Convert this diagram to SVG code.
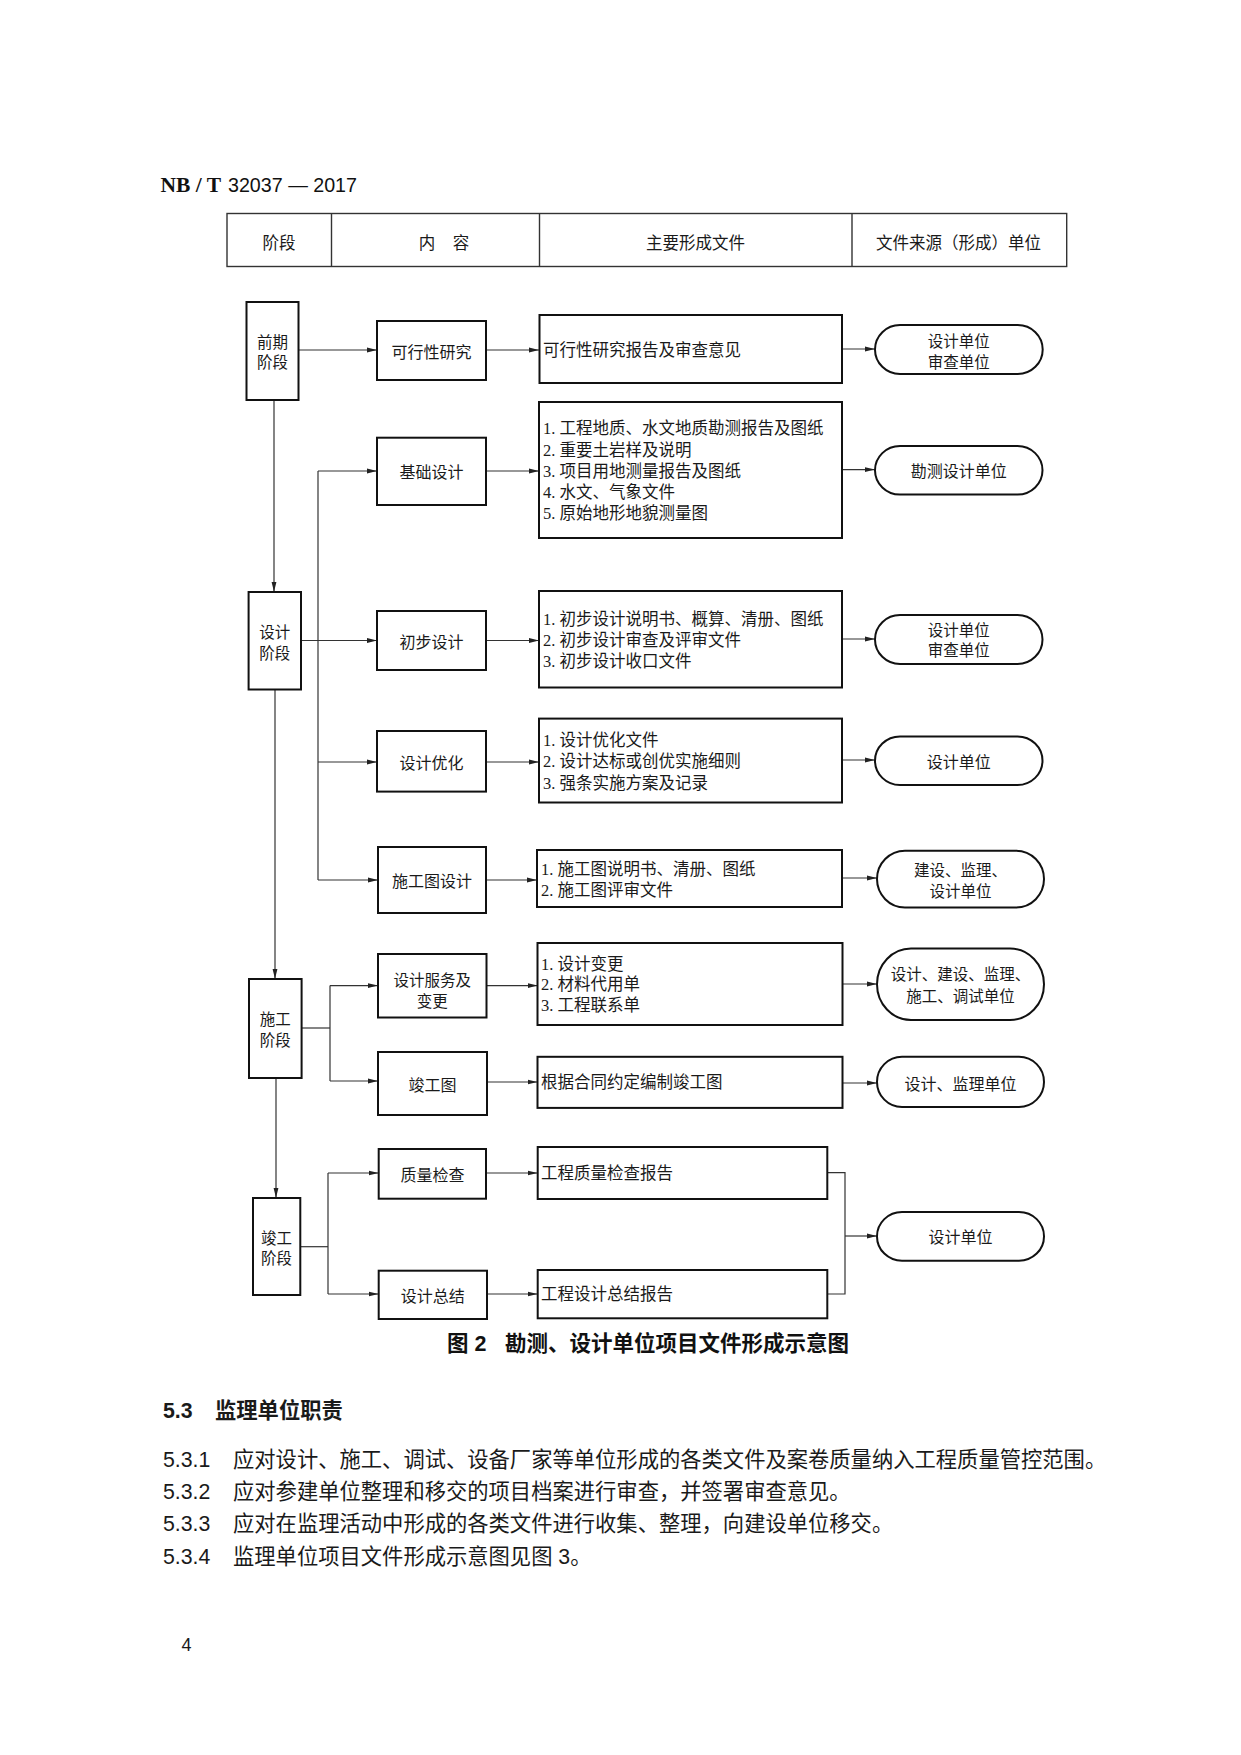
<svg xmlns="http://www.w3.org/2000/svg" width="1241" height="1755" viewBox="0 0 1241 1755">
<defs>
<style>
.box{fill:#fff;stroke:#111;stroke-width:2}
.pill{fill:#fff;stroke:#111;stroke-width:2}
.tbl{fill:none;stroke:#333;stroke-width:1.4}
.ln{fill:none;stroke:#333;stroke-width:1.2}
.cn{font-family:"Noto Sans CJK SC",sans-serif;font-size:16px;fill:#1a1a1a}
.two{font-size:15.5px}
.mid{text-anchor:middle}
.doc{font-family:"Liberation Serif","Noto Sans CJK SC",serif;font-size:16.5px;fill:#1a1a1a}
.body{font-family:"Liberation Sans","Noto Sans CJK SC",sans-serif;font-size:21.3px;fill:#1a1a1a}
.cap{font-family:"Liberation Sans","Noto Sans CJK SC",sans-serif;font-size:21.5px;font-weight:bold;fill:#111}
</style>
<marker id="ah" markerWidth="10" markerHeight="6" refX="10" refY="3" orient="auto" markerUnits="userSpaceOnUse">
<path d="M0,0.6 L10,3 L0,5.4 z" fill="#222"/>
</marker>
</defs>
<rect width="1241" height="1755" fill="#fff"/>

<g id="page-header">
<text x="160.5" y="192" font-family="Liberation Serif,serif" font-weight="bold" font-size="21.5" fill="#111">NB / T</text>
<text x="228" y="192" font-family="Liberation Sans,sans-serif" font-size="21" fill="#111" textLength="129" lengthAdjust="spacingAndGlyphs">32037 — 2017</text>
</g>

<g id="table-header">
<rect class="tbl" x="227" y="213.5" width="839.7" height="53"/>
<line class="tbl" x1="331.5" y1="213.5" x2="331.5" y2="266.5"/>
<line class="tbl" x1="539.5" y1="213.5" x2="539.5" y2="266.5"/>
<line class="tbl" x1="852" y1="213.5" x2="852" y2="266.5"/>
<g class="cn" dominant-baseline="central" style="font-size:16.5px">
<text class="mid" x="279" y="242">阶段</text>
<text class="mid" x="427" y="242">内</text>
<text class="mid" x="461" y="242">容</text>
<text class="mid" x="695.5" y="242">主要形成文件</text>
<text class="mid" x="958.5" y="242">文件来源（形成）单位</text>
</g>
</g>

<g id="connectors">
<path class="ln" d="M298.4,350 H377" marker-end="url(#ah)"/>
<path class="ln" d="M486,350 H539" marker-end="url(#ah)"/>
<path class="ln" d="M842,349 H875" marker-end="url(#ah)"/>
<path class="ln" d="M274,400 V592" marker-end="url(#ah)"/>
<path class="ln" d="M275,689.5 V979" marker-end="url(#ah)"/>
<path class="ln" d="M276,1078 V1198" marker-end="url(#ah)"/>
<path class="ln" d="M301,640.5 H377" marker-end="url(#ah)"/>
<path class="ln" d="M318,471 V880"/>
<path class="ln" d="M318,471 H377" marker-end="url(#ah)"/>
<path class="ln" d="M318,762 H377" marker-end="url(#ah)"/>
<path class="ln" d="M318,880 H378" marker-end="url(#ah)"/>
<path class="ln" d="M486,471 H539" marker-end="url(#ah)"/>
<path class="ln" d="M486,640.5 H539" marker-end="url(#ah)"/>
<path class="ln" d="M486,762 H539" marker-end="url(#ah)"/>
<path class="ln" d="M486,880 H537" marker-end="url(#ah)"/>
<path class="ln" d="M842,469.6 H875" marker-end="url(#ah)"/>
<path class="ln" d="M842,639 H875" marker-end="url(#ah)"/>
<path class="ln" d="M842,760 H875" marker-end="url(#ah)"/>
<path class="ln" d="M842,878 H877" marker-end="url(#ah)"/>
<path class="ln" d="M301.6,1028 H330"/>
<path class="ln" d="M330,985.6 V1081"/>
<path class="ln" d="M330,985.6 H378" marker-end="url(#ah)"/>
<path class="ln" d="M330,1081 H378" marker-end="url(#ah)"/>
<path class="ln" d="M486.5,985.6 H537.5" marker-end="url(#ah)"/>
<path class="ln" d="M487,1082 H537.5" marker-end="url(#ah)"/>
<path class="ln" d="M842.5,984 H877" marker-end="url(#ah)"/>
<path class="ln" d="M842.5,1083 H877" marker-end="url(#ah)"/>
<path class="ln" d="M300,1246.7 H328"/>
<path class="ln" d="M328,1173 V1294"/>
<path class="ln" d="M328,1173 H378.7" marker-end="url(#ah)"/>
<path class="ln" d="M328,1294 H378.7" marker-end="url(#ah)"/>
<path class="ln" d="M486,1173 H537.7" marker-end="url(#ah)"/>
<path class="ln" d="M487,1294 H537.7" marker-end="url(#ah)"/>
<path class="ln" d="M827.3,1172.7 H845 V1294 H827.3"/>
<path class="ln" d="M845,1236 H877" marker-end="url(#ah)"/>
</g>

<g id="stage-qianqi">
<rect class="box" x="246.5" y="302" width="52" height="98"/>
<text class="cn two mid" x="272.5" y="340.5" dominant-baseline="central">前期</text>
<text class="cn two mid" x="272.5" y="361" dominant-baseline="central">阶段</text>
</g>
<g id="stage-sheji">
<rect class="box" x="248.6" y="592" width="52.4" height="97.5"/>
<text class="cn two mid" x="274.8" y="631" dominant-baseline="central">设计</text>
<text class="cn two mid" x="274.8" y="651.5" dominant-baseline="central">阶段</text>
</g>
<g id="stage-shigong">
<rect class="box" x="249" y="979" width="52.6" height="99"/>
<text class="cn two mid" x="275.3" y="1018.3" dominant-baseline="central">施工</text>
<text class="cn two mid" x="275.3" y="1038.8" dominant-baseline="central">阶段</text>
</g>
<g id="stage-jungong">
<rect class="box" x="253" y="1198" width="47.3" height="97"/>
<text class="cn two mid" x="276.6" y="1236.7" dominant-baseline="central">竣工</text>
<text class="cn two mid" x="276.6" y="1257.2" dominant-baseline="central">阶段</text>
</g>

<g id="content-kexing">
<rect class="box" x="377" y="321" width="109" height="59"/>
<text class="cn mid" x="431.5" y="350.5" dominant-baseline="central">可行性研究</text>
</g>
<g id="content-jichu">
<rect class="box" x="377" y="437.7" width="109" height="67.3"/>
<text class="cn mid" x="431.5" y="471" dominant-baseline="central">基础设计</text>
</g>
<g id="content-chubu">
<rect class="box" x="377" y="611" width="109" height="59"/>
<text class="cn mid" x="431.5" y="640.5" dominant-baseline="central">初步设计</text>
</g>
<g id="content-youhua">
<rect class="box" x="377" y="731" width="109" height="60.6"/>
<text class="cn mid" x="431.5" y="762" dominant-baseline="central">设计优化</text>
</g>
<g id="content-shigongtu">
<rect class="box" x="378" y="847" width="108" height="66"/>
<text class="cn mid" x="432" y="880" dominant-baseline="central">施工图设计</text>
</g>
<g id="content-fuwu">
<rect class="box" x="378" y="954" width="108.5" height="63.5"/>
<text class="cn two mid" x="432.2" y="979.4" dominant-baseline="central">设计服务及</text>
<text class="cn two mid" x="432.2" y="999.9" dominant-baseline="central">变更</text>
</g>
<g id="content-jungongtu">
<rect class="box" x="378" y="1052" width="109" height="63"/>
<text class="cn mid" x="432.5" y="1083.5" dominant-baseline="central">竣工图</text>
</g>
<g id="content-zhiliang">
<rect class="box" x="378.7" y="1149" width="107.3" height="49.7"/>
<text class="cn mid" x="432.4" y="1173.5" dominant-baseline="central">质量检查</text>
</g>
<g id="content-zongjie">
<rect class="box" x="378.7" y="1270.7" width="108.3" height="48.3"/>
<text class="cn mid" x="432.8" y="1294.5" dominant-baseline="central">设计总结</text>
</g>

<g id="doc-kexing">
<rect class="box" x="539.5" y="315" width="302.5" height="68"/>
<text class="doc" x="543" y="350" dominant-baseline="central">可行性研究报告及审查意见</text>
</g>
<g id="doc-jichu">
<rect class="box" x="539" y="402" width="303" height="136"/>
<text class="doc" x="543" y="428.6" dominant-baseline="central">1. 工程地质、水文地质勘测报告及图纸</text>
<text class="doc" x="543" y="450" dominant-baseline="central">2. 重要土岩样及说明</text>
<text class="doc" x="543" y="471" dominant-baseline="central">3. 项目用地测量报告及图纸</text>
<text class="doc" x="543" y="492.3" dominant-baseline="central">4. 水文、气象文件</text>
<text class="doc" x="543" y="513.6" dominant-baseline="central">5. 原始地形地貌测量图</text>
</g>
<g id="doc-chubu">
<rect class="box" x="539" y="591" width="303" height="96.5"/>
<text class="doc" x="543" y="619.6" dominant-baseline="central">1. 初步设计说明书、概算、清册、图纸</text>
<text class="doc" x="543" y="640.5" dominant-baseline="central">2. 初步设计审查及评审文件</text>
<text class="doc" x="543" y="661.4" dominant-baseline="central">3. 初步设计收口文件</text>
</g>
<g id="doc-youhua">
<rect class="box" x="539" y="718.6" width="303" height="83.9"/>
<text class="doc" x="543" y="740.7" dominant-baseline="central">1. 设计优化文件</text>
<text class="doc" x="543" y="761.6" dominant-baseline="central">2. 设计达标或创优实施细则</text>
<text class="doc" x="543" y="783" dominant-baseline="central">3. 强条实施方案及记录</text>
</g>
<g id="doc-shigongtu">
<rect class="box" x="537" y="850" width="305" height="57"/>
<text class="doc" x="541" y="869" dominant-baseline="central">1. 施工图说明书、清册、图纸</text>
<text class="doc" x="541" y="890.7" dominant-baseline="central">2. 施工图评审文件</text>
</g>
<g id="doc-fuwu">
<rect class="box" x="537.5" y="943" width="305" height="82"/>
<text class="doc" x="541" y="964" dominant-baseline="central">1. 设计变更</text>
<text class="doc" x="541" y="984.8" dominant-baseline="central">2. 材料代用单</text>
<text class="doc" x="541" y="1005.7" dominant-baseline="central">3. 工程联系单</text>
</g>
<g id="doc-jungongtu">
<rect class="box" x="537.5" y="1056.8" width="305" height="51.1"/>
<text class="doc" x="541" y="1082.9" dominant-baseline="central">根据合同约定编制竣工图</text>
</g>
<g id="doc-zhiliang">
<rect class="box" x="537.7" y="1147" width="289.6" height="52"/>
<text class="doc" x="541" y="1173" dominant-baseline="central">工程质量检查报告</text>
</g>
<g id="doc-zongjie">
<rect class="box" x="537.7" y="1270" width="289.6" height="48.3"/>
<text class="doc" x="541" y="1294" dominant-baseline="central">工程设计总结报告</text>
</g>

<g id="unit-1">
<rect class="pill" x="875" y="325" width="167.7" height="49" rx="25" ry="24.5"/>
<text class="cn two mid" x="958.8" y="340.4" dominant-baseline="central">设计单位</text>
<text class="cn two mid" x="958.8" y="360.9" dominant-baseline="central">审查单位</text>
</g>
<g id="unit-2">
<rect class="pill" x="875" y="446" width="167.5" height="48.6" rx="25" ry="24.3"/>
<text class="cn mid" x="958.8" y="470.3" dominant-baseline="central">勘测设计单位</text>
</g>
<g id="unit-3">
<rect class="pill" x="875" y="615" width="167.5" height="49" rx="25" ry="24.5"/>
<text class="cn two mid" x="958.8" y="628.9" dominant-baseline="central">设计单位</text>
<text class="cn two mid" x="958.8" y="649.4" dominant-baseline="central">审查单位</text>
</g>
<g id="unit-4">
<rect class="pill" x="875" y="736.4" width="167.5" height="48.6" rx="25" ry="24.3"/>
<text class="cn mid" x="958.8" y="760.7" dominant-baseline="central">设计单位</text>
</g>
<g id="unit-5">
<rect class="pill" x="877" y="850.7" width="167" height="56.8" rx="28" ry="28.4"/>
<text class="cn two mid" x="960.5" y="869" dominant-baseline="central">建设、监理、</text>
<text class="cn two mid" x="960.5" y="890" dominant-baseline="central">设计单位</text>
</g>
<g id="unit-6">
<rect class="pill" x="877" y="948.6" width="167" height="71.4" rx="34" ry="35.7"/>
<text class="cn two mid" x="960.5" y="973.4" dominant-baseline="central">设计、建设、监理、</text>
<text class="cn two mid" x="960.5" y="994.5" dominant-baseline="central">施工、调试单位</text>
</g>
<g id="unit-7">
<rect class="pill" x="877" y="1056.8" width="167" height="50.2" rx="25" ry="25.1"/>
<text class="cn mid" x="960.5" y="1082.5" dominant-baseline="central">设计、监理单位</text>
</g>
<g id="unit-8">
<rect class="pill" x="877" y="1212" width="167" height="48.7" rx="25" ry="24.3"/>
<text class="cn mid" x="960.5" y="1236.3" dominant-baseline="central">设计单位</text>
</g>

<g id="caption">
<text class="cap" x="447" y="1344" dominant-baseline="central">图 2</text>
<text class="cap" x="505" y="1344" dominant-baseline="central">勘测、设计单位项目文件形成示意图</text>
</g>

<g id="body-text">
<text class="body" x="163" y="1411" dominant-baseline="central" font-weight="bold">5.3</text>
<text class="body" x="215" y="1411" dominant-baseline="central" font-weight="bold">监理单位职责</text>
<text class="body" x="163" y="1460" dominant-baseline="central">5.3.1</text>
<text class="body" x="233" y="1460" dominant-baseline="central">应对设计、施工、调试、设备厂家等单位形成的各类文件及案卷质量纳入工程质量管控范围。</text>
<text class="body" x="163" y="1492.3" dominant-baseline="central">5.3.2</text>
<text class="body" x="233" y="1492.3" dominant-baseline="central">应对参建单位整理和移交的项目档案进行审查，并签署审查意见。</text>
<text class="body" x="163" y="1523.5" dominant-baseline="central">5.3.3</text>
<text class="body" x="233" y="1523.5" dominant-baseline="central">应对在监理活动中形成的各类文件进行收集、整理，向建设单位移交。</text>
<text class="body" x="163" y="1556.7" dominant-baseline="central">5.3.4</text>
<text class="body" x="233" y="1556.7" dominant-baseline="central">监理单位项目文件形成示意图见图 3。</text>
<text x="181.5" y="1645" dominant-baseline="central" font-family="Liberation Sans,sans-serif" font-size="18" fill="#1a1a1a">4</text>
</g>
</svg>
